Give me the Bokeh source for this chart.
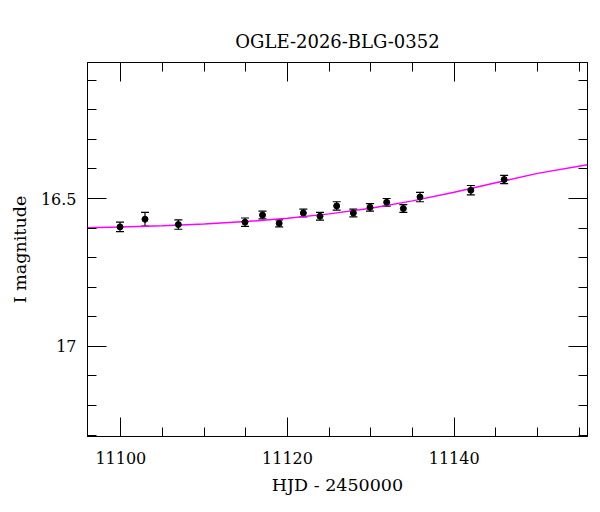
from bokeh.plotting import figure
from bokeh.models import (Range1d, LinearAxis, SingleIntervalTicker, Whisker,
                          ColumnDataSource, TeeHead)
from bokeh.embed import file_html
from bokeh.resources import INLINE

# ---- data ----
hjd = [11099.9, 11102.9, 11106.9, 11114.9, 11117.0, 11119.0, 11121.9, 11123.9,
       11125.9, 11127.9, 11129.9, 11131.9, 11133.9, 11135.9, 11142.0, 11146.0]
mag = [16.596, 16.570, 16.588, 16.580, 16.556, 16.584, 16.549, 16.560,
       16.525, 16.549, 16.530, 16.513, 16.534, 16.495, 16.472, 16.436]
err = [0.016, 0.023, 0.016, 0.014, 0.013, 0.012, 0.013, 0.013,
       0.014, 0.013, 0.013, 0.013, 0.013, 0.016, 0.016, 0.014]

model_t = [11096.0, 11100.0, 11105.0, 11110.0, 11115.0, 11120.0, 11125.0,
           11130.0, 11135.0, 11140.0, 11145.0, 11150.0, 11156.0]
model_mag = [16.599, 16.596, 16.592, 16.586, 16.578, 16.567, 16.552,
             16.533, 16.508, 16.479, 16.447, 16.415, 16.386]

title_text = "OGLE-2026-BLG-0352"
x_label = "HJD - 2450000"
y_label = "I magnitude"

FONT = "DejaVu Serif"

p = figure(width=598, height=508, output_backend="svg", toolbar_location=None,
           x_range=Range1d(11096.0, 11156.0), y_range=Range1d(17.305, 16.04),
           min_border_left=87, min_border_right=11,
           min_border_top=62, min_border_bottom=72)

p.grid.visible = False
p.background_fill_color = "white"
p.border_fill_color = "white"
p.outline_line_color = "black"
p.outline_line_width = 1

def style_axis(ax, labels=True):
    ax.axis_line_color = "black"
    ax.major_tick_in = 19
    ax.major_tick_out = 0
    ax.minor_tick_in = 9
    ax.minor_tick_out = 0
    ax.major_tick_line_color = "black"
    ax.minor_tick_line_color = "black"
    ax.major_label_text_font = FONT
    ax.major_label_text_font_size = "16px" if labels else "0px"
    ax.major_label_text_color = "black"
    ax.axis_label_text_font = FONT
    ax.axis_label_text_font_size = "17.5px"
    ax.axis_label_text_font_style = "normal"
    ax.axis_label_text_color = "black"

p.xaxis.ticker = SingleIntervalTicker(interval=20, num_minor_ticks=4)
p.yaxis.ticker = SingleIntervalTicker(interval=0.5, num_minor_ticks=5)
style_axis(p.xaxis[0])
style_axis(p.yaxis[0])
p.xaxis.axis_label = x_label
p.yaxis.axis_label = y_label
p.xaxis.major_label_standoff = 15
p.yaxis.major_label_standoff = 11
p.xaxis.axis_label_standoff = 8
p.yaxis.axis_label_standoff = 8

# top axis (mirrored ticks) carries the chart title as its label
top = LinearAxis(ticker=SingleIntervalTicker(interval=20, num_minor_ticks=4))
style_axis(top, labels=False)
top.axis_label = title_text
top.axis_label_text_font_size = "18px"
top.major_label_standoff = 5
top.axis_label_standoff = 11
p.add_layout(top, "above")

right = LinearAxis(ticker=SingleIntervalTicker(interval=0.5, num_minor_ticks=5))
style_axis(right, labels=False)
p.add_layout(right, "right")

src = ColumnDataSource(dict(x=hjd, y=mag,
                            lo=[m - e for m, e in zip(mag, err)],
                            hi=[m + e for m, e in zip(mag, err)]))

p.line(model_t, model_mag, line_color="#ff00ff", line_width=1.5)

wh = Whisker(base="x", lower="lo", upper="hi", source=src, dimension="height",
             line_color="black", line_width=1.2,
             upper_head=TeeHead(size=8, line_color="black", line_width=1.2),
             lower_head=TeeHead(size=8, line_color="black", line_width=1.2))
p.add_layout(wh)
p.scatter("x", "y", source=src, size=6, color="black")

open("out.html", "w").write(file_html(p, INLINE))
